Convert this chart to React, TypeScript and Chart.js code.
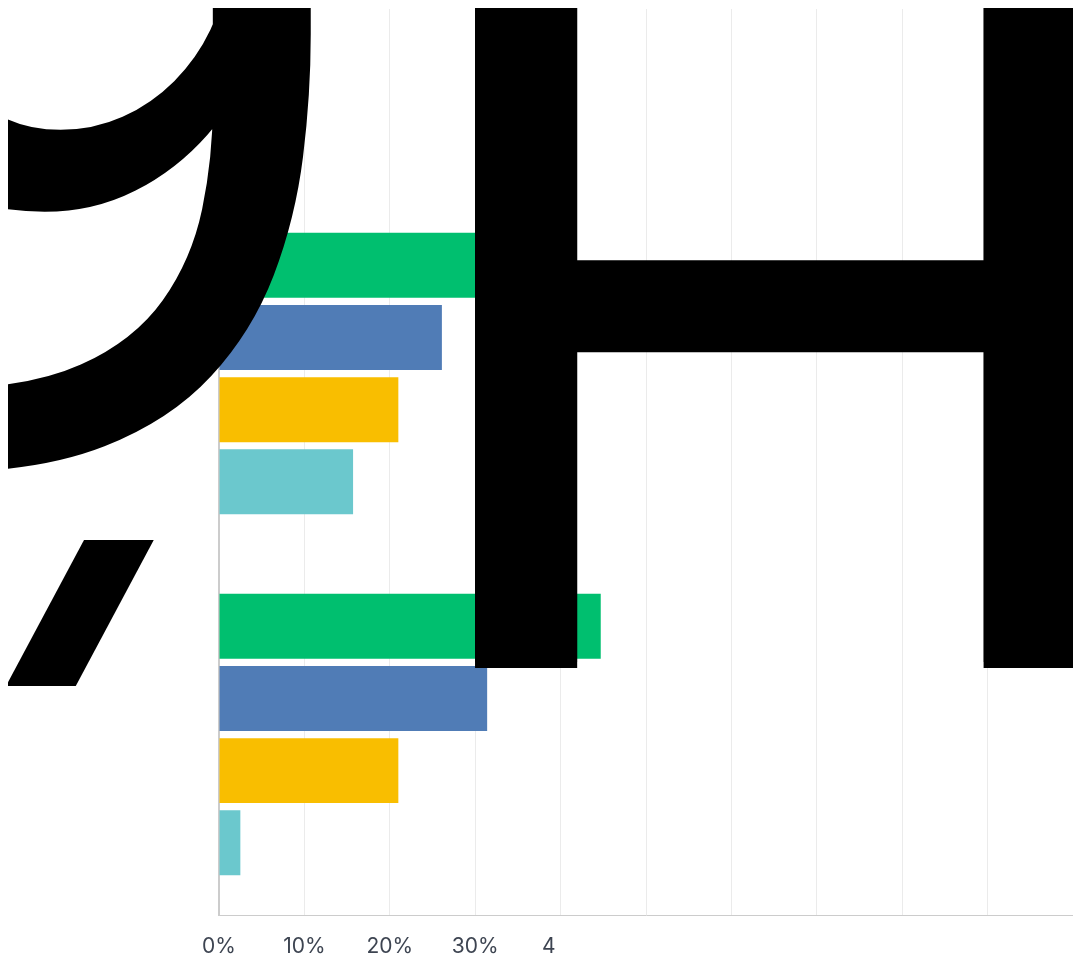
import React, { useEffect, useRef } from "react";
import { Chart, registerables } from "chart.js";

Chart.register(...registerables);

// Index positions of the three answer groups (the first sits mostly above the plot)
const groups = [0, 1, 2];
const seriesNames = ["Series A", "Series B", "Series C", "Series D"];
const seriesColors = ["#00BF6F", "#507CB6", "#F9BE00", "#6BC8CD"];

// Percent values per series (one per group)
const seriesA = [35, 36, 44.7];
const seriesB = [18.3, 26.1, 31.4];
const seriesC = [8, 21.0, 21.0];
const seriesD = [6, 15.7, 2.5];
const seriesValues = [seriesA, seriesB, seriesC, seriesD];

// X-axis tick labels (as they appear; the 40% label is cut after its first digit)
const xTickLabels = ["0%", "10%", "20%", "30%", "4    ", "", "", "", "", "", ""];

// Oversized overlay glyphs (page coordinates)
type Glyph = {
  text: string; font: string; x: number; y: number; sy: number; skew: number;
  clip: number[] | null;
};
const overlayTexts: Glyph[] = [
  { text: "9", font: '1090px "Roboto"', x: -230, y: 471, sy: 1, skew: 0, clip: null },
  { text: "/", font: '900px "Roboto"', x: -31, y: 700, sy: 1, skew: -0.15, clip: [0, 540, 300, 146] },
  { text: "H", font: '1093px "Liberation Sans"', x: 385.5, y: 668, sy: 0.926, skew: 0, clip: null },
  { text: "H", font: '1093px "Liberation Sans"', x: 385.5, y: 662, sy: 0.926, skew: 0, clip: [0, 0, 1081, 668] },
  { text: "H", font: '1093px "Liberation Sans"', x: 385.5, y: 675, sy: 0.926, skew: 0, clip: [0, 0, 1081, 668] },
];

const overlayPlugin = {
  id: "bigText",
  afterDraw(chart: any) {
    const ctx = chart.ctx;
    for (const t of overlayTexts) {
      ctx.save();
      ctx.fillStyle = "#000000";
      ctx.textAlign = "left";
      ctx.textBaseline = "alphabetic";
      ctx.font = t.font;
      if (t.clip) {
        ctx.beginPath();
        ctx.rect(t.clip[0] - 8, t.clip[1] - 8, t.clip[2], t.clip[3]);
        ctx.clip();
      }
      ctx.translate(t.x - 8, t.y - 8);
      ctx.transform(1, 0, t.skew, 1, 0, 0);
      ctx.scale(1, t.sy);
      ctx.fillText(t.text, 0, 0);
      ctx.restore();
    }
  },
};

export default function App() {
  const ref = useRef<HTMLCanvasElement | null>(null);
  useEffect(() => {
    if (!ref.current) return;
    const chart = new Chart(ref.current, {
      type: "bar",
      data: {
        datasets: seriesValues.map((vals, si) => ({
          label: seriesNames[si],
          data: groups.map((g, gi) => ({ x: vals[gi], y: g })),
          backgroundColor: seriesColors[si],
          borderWidth: 0,
        })),
      },
      options: {
        indexAxis: "y",
        animation: false,
        responsive: false,
        layout: { autoPadding: false, padding: { top: 1, right: 0, left: 0, bottom: -21 } },
        plugins: {
          legend: { display: false },
          tooltip: { enabled: false },
          title: { display: false },
        },
        scales: {
          x: {
            type: "linear",
            min: 0,
            max: 100,
            grid: { color: "#ebebeb", drawTicks: false, lineWidth: 1 },
            border: { color: "#cccccc", width: 1 },
            ticks: {
              stepSize: 10,
              autoSkip: false,
              maxRotation: 0,
              padding: 0,
              color: "#3d4451",
              font: { family: "Inter", size: 21, lineHeight: 3 },
              callback: (_v: any, i: number) => xTickLabels[i],
            },
          },
          y: {
            type: "linear",
            min: -0.01,
            max: 2.5,
            reverse: true,
            offset: false,
            grid: { display: false },
            border: { color: "#cccccc", width: 2 },
            ticks: { display: false },
            afterBuildTicks: (s: any) => {
              s.ticks = groups.map((v) => ({ value: v }));
            },
            afterFit: (s: any) => {
              s.width = 211;
            },
          },
        },
      },
      plugins: [overlayPlugin],
    });
    return () => chart.destroy();
  }, []);
  return (
    <div style={{ position: "absolute", left: 8, top: 8, width: 1065, height: 949 }}>
      <canvas
        ref={ref}
        width={1065}
        height={949}
        style={{ display: "block", width: "1065px", height: "949px" }}
      />
    </div>
  );
}
